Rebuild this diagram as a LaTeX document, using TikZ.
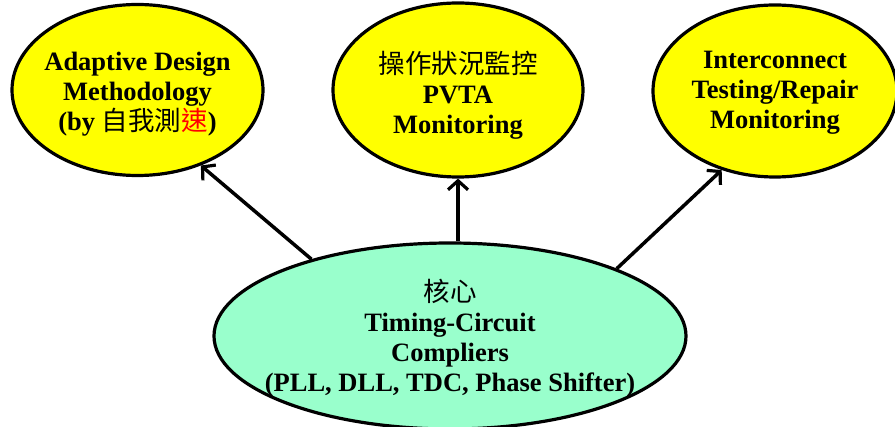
\documentclass[tikz,border=0pt]{standalone}
\usepackage{fontspec}
\setmainfont{Liberation Serif}
\newfontfamily\cjk{Noto Sans CJK TC}
\usetikzlibrary{shapes.geometric,arrows.meta}
\definecolor{yel}{HTML}{FFFF00}
\definecolor{mint}{HTML}{99FFCC}
\definecolor{redc}{HTML}{FF0000}
\newcommand\zh[1]{{\cjk\mdseries #1}}
\begin{document}
\begin{tikzpicture}[x=1pt,y=-1pt,
  bubble/.style={ellipse, draw=black, line width=3.2pt, inner sep=0pt},
  btxt/.style={align=center, font=\bfseries\fontsize{26.5}{30}\selectfont, inner sep=0pt},
  arr/.style={line width=3.5pt, -{Straight Barb[length=9pt,width=20pt,line width=3.2pt]}}]
\useasboundingbox (0,0) rectangle (895,427);
\clip (0,0) rectangle (895,427);
\fill[white] (0,0) rectangle (895,427);
% bubbles
\node[bubble, fill=yel, minimum width=251pt, minimum height=171pt] (left) at (137.5,90) {};
\node[bubble, fill=yel, minimum width=250pt, minimum height=174pt] (mid) at (458,90) {};
\node[bubble, fill=yel, minimum width=244pt, minimum height=172pt] (right) at (775,91) {};
\node[bubble, fill=mint, minimum width=472pt, minimum height=186pt] (core) at (450,336) {};
% texts
\node[btxt] (lefttxt) at (137.5,94) {Adaptive Design\\Methodology\\(by \zh{自我測}{\color{redc}\zh{速}})};
\node[btxt] (midtxt) at (458,95) {\zh{操作狀況監控}\\PVTA\\Monitoring};
\node[btxt] (righttxt) at (775,93) {Interconnect\\Testing/Repair\\Monitoring};
\node[btxt] (coretxt) at (450,338) {\zh{核心}\\Timing-Circuit\\Compliers\\(PLL, DLL, TDC, Phase Shifter)};
% arrows
\draw[arr] (core.151.8) -- (left.-50.3);
\draw[arr] (mid.south |- core.north) -- (mid.south);
\draw[arr] (core.22.9) -- (right.236.8);
\end{tikzpicture}
\end{document}
